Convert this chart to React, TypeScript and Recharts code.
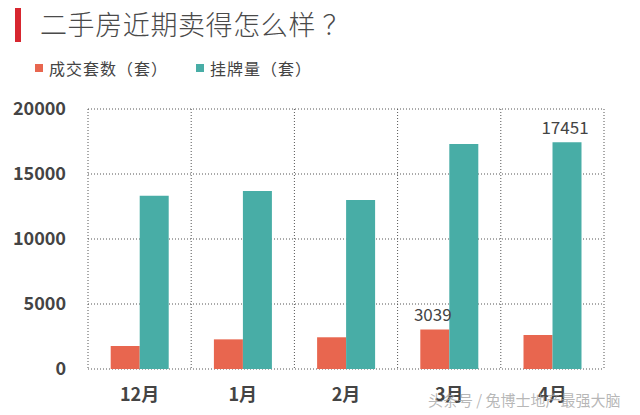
import { BarChart, Bar, XAxis, YAxis, CartesianGrid, LabelList } from "recharts";

const months = ["12月", "1月", "2月", "3月", "4月"];
const dealCount = [1770, 2280, 2440, 3039, 2615];
const listingCount = [13330, 13690, 13000, 17300, 17451];
const dealLabelOn = [false, false, false, true, false];
const listingLabelOn = [false, false, false, false, true];
const yTicks = [0, 5000, 10000, 15000, 20000];

const RED = "#E8664F";
const TEAL = "#48ADA6";
const FONT = "'Noto Sans CJK SC', 'Noto Sans', sans-serif";

const data = months.map((m, i) => ({
    month: m,
    deal: dealCount[i],
    listing: listingCount[i],
}));

const makeLabel =
    (flags: boolean[]) =>
    (props: any) => {
        const { x, y, width, value, index } = props;
        if (!flags[index]) return null;
        return (
            <text
                x={x + width / 2 - 2}
                y={y - 8}
                textAnchor="middle"
                fill="#444"
                fontSize={17}
                fontFamily={FONT}
            >
                {value}
            </text>
        );
    };

export default function App() {
    return (
        <div
            style={{
                position: "absolute",
                left: 0,
                top: 0,
                width: 640,
                height: 415,
                background: "#fff",
                fontFamily: FONT,
                overflow: "hidden",
            }}
        >
            <div
                style={{
                    position: "absolute",
                    left: 15,
                    top: 8,
                    width: 6,
                    height: 34,
                    background: "#D7262F",
                }}
            />
            <div
                style={{
                    position: "absolute",
                    left: 40,
                    top: 5,
                    fontSize: 27,
                    fontWeight: 300,
                    color: "#4a4a4a",
                    lineHeight: "38px",
                    letterSpacing: 0.6,
                    whiteSpace: "nowrap",
                }}
            >
                二手房近期卖得怎么样 ？
            </div>
            <div
                style={{
                    position: "absolute",
                    left: 35,
                    top: 57,
                    display: "flex",
                    alignItems: "center",
                    fontSize: 16,
                    color: "#444",
                    lineHeight: "22px",
                    letterSpacing: 1,
                    whiteSpace: "nowrap",
                }}
            >
                <span style={{ width: 8, height: 8, background: RED, marginRight: 6 }} />
                <span>成交套数（套）</span>
                <span
                    style={{
                        width: 8,
                        height: 8,
                        background: TEAL,
                        marginLeft: 28,
                        marginRight: 6,
                    }}
                />
                <span>挂牌量（套）</span>
            </div>

            <BarChart
                width={640}
                height={415}
                data={data}
                margin={{ top: 109, right: 36, bottom: 0, left: 0 }}
                barCategoryGap="22%"
                barGap={0}
            >
                <CartesianGrid
                    stroke="#555"
                    strokeDasharray="1 2"
                    verticalCoordinatesGenerator={({ offset }: any) =>
                        months
                            .map((_, i) => offset.left + (i * offset.width) / months.length)
                            .concat(offset.left + offset.width)
                    }
                />
                <XAxis
                    dataKey="month"
                    height={46}
                    axisLine={false}
                    tickLine={false}
                    tickSize={0}
                    tickMargin={19}
                    tick={{ fill: "#444", fontSize: 18, fontWeight: 700, fontFamily: FONT }}
                />
                <YAxis
                    width={88}
                    domain={[0, 20000]}
                    ticks={yTicks}
                    axisLine={false}
                    tickLine={false}
                    tickSize={0}
                    tickMargin={22}
                    tick={{ fill: "#444", fontSize: 18, fontWeight: 700, fontFamily: FONT }}
                />
                <Bar dataKey="deal" fill={RED} isAnimationActive={false}>
                    <LabelList dataKey="deal" content={makeLabel(dealLabelOn)} />
                </Bar>
                <Bar dataKey="listing" fill={TEAL} isAnimationActive={false}>
                    <LabelList dataKey="listing" content={makeLabel(listingLabelOn)} />
                </Bar>
            </BarChart>

            <div
                style={{
                    position: "absolute",
                    left: 428,
                    top: 389,
                    fontSize: 15,
                    color: "rgba(160,160,160,0.75)",
                    whiteSpace: "nowrap",
                    lineHeight: "22px",
                }}
            >
                头条号 / 兔博士地产最强大脑
            </div>
        </div>
    );
}
